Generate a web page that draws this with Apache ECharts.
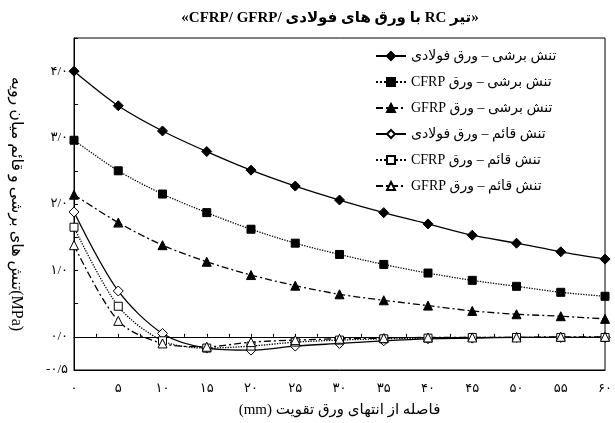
<!DOCTYPE html>
<html lang="fa" dir="ltr">
  <head>
    <meta charset="UTF-8" />
    <title>تنش برشی و قائم</title>
    <script src="https://cdn.jsdelivr.net/npm/echarts@6/dist/echarts.min.js"></script>
    <style>
      html, body { margin: 0; padding: 0; background: #fff; }
    </style>
  </head>
  <body>
    <div id="main" style="width: 615px; height: 423px"></div>
    <script>
      // distance from plate end (mm)
      var xs = [0, 5, 10, 15, 20, 25, 30, 35, 40, 45, 50, 55, 60];

      // shear stress (MPa)
      var shearSteel = [4.0, 3.48, 3.1, 2.79, 2.51, 2.27, 2.06, 1.87, 1.7, 1.53, 1.41, 1.28, 1.17];
      var shearCfrp = [2.96, 2.5, 2.15, 1.87, 1.62, 1.41, 1.24, 1.09, 0.96, 0.85, 0.76, 0.67, 0.61];
      var shearGfrp = [2.14, 1.72, 1.38, 1.13, 0.93, 0.77, 0.64, 0.55, 0.47, 0.39, 0.34, 0.31, 0.27];

      // normal stress (MPa)
      var normalSteel = [1.88, 0.69, 0.05, -0.17, -0.2, -0.14, -0.1, -0.06, -0.03, -0.02, -0.01, -0.01, -0.01];
      var normalCfrp = [1.65, 0.46, -0.06, -0.17, -0.14, -0.08, -0.05, -0.03, -0.02, -0.01, -0.01, -0.01, -0.01];
      var normalGfrp = [1.38, 0.24, -0.1, -0.15, -0.08, -0.05, -0.03, -0.02, -0.01, -0.01, -0.01, 0, 0];

      // text is shaped right-to-left here, so the Latin parts come first
      // to end up on the right-hand side as in the figure
      var seriesNames = [
        "تنش برشی – ورق فولادی",
        "CFRP تنش برشی – ورق",
        "GFRP تنش برشی – ورق",
        "تنش قائم – ورق فولادی",
        "CFRP تنش قائم – ورق",
        "GFRP تنش قائم – ورق"
      ];
      var titleText = "«CFRP/ GFRP/ با ورق های فولادی RC تیر»";
      var xNameParts = ["(mm)", " ", "فاصله از انتهای ورق تقویت"];
      var yName = "تنش های برشی و قائم میان رویه(MPa)";

      var faDigits = "۰۱۲۳۴۵۶۷۸۹";
      function fa(n) {
        return String(n).replace(/[0-9]/g, function (d) { return faDigits[+d]; });
      }

      var font = "'Liberation Serif', 'DejaVu Sans', serif";

      function pairs(vals) {
        return xs.map(function (x, i) { return [x, vals[i]]; });
      }

      var dashDot = [7, 3, 2, 3];
      var styles = [
        { data: shearSteel, symbol: "diamond", size: 10, fill: "#000", type: "solid" },
        { data: shearCfrp, symbol: "rect", size: 8, fill: "#000", type: "dotted" },
        { data: shearGfrp, symbol: "triangle", size: 9, fill: "#000", type: dashDot },
        { data: normalSteel, symbol: "diamond", size: 10, fill: "#fff", type: "solid" },
        { data: normalCfrp, symbol: "rect", size: 8, fill: "#fff", type: "dotted" },
        { data: normalGfrp, symbol: "triangle", size: 9, fill: "#fff", type: dashDot }
      ];

      var series = styles.map(function (s, i) {
        return {
          name: seriesNames[i],
          type: "line",
          data: pairs(s.data),
          smooth: 0.3,
          symbol: s.symbol,
          symbolSize: s.size,
          showAllSymbol: true,
          itemStyle: { color: s.fill, borderColor: "#000", borderWidth: 1 },
          lineStyle: { color: "#000", width: 1.3, type: s.type },
          z: 3
        };
      });

      var chart = echarts.init(document.getElementById("main"));
      chart.setOption({
        animation: false,
        backgroundColor: "#fff",
        textStyle: { fontFamily: font, color: "#000" },
        title: {
          text: titleText,
          left: 325,
          textAlign: "center",
          top: 6,
          textStyle: { fontFamily: font, fontSize: 15, fontWeight: "bold", color: "#000" }
        },
        legend: {
          orient: "vertical",
          left: 370,
          top: 44,
          itemWidth: 30,
          itemHeight: 10,
          itemGap: 12,
          textStyle: { fontFamily: font, fontSize: 14, color: "#000" },
          data: seriesNames
        },
        grid: {
          left: 74,
          right: 8,
          top: 38,
          bottom: 51,
          show: true,
          borderColor: "#000",
          borderWidth: 1
        },
        xAxis: [
          {
            type: "value",
            min: 0,
            max: 60,
            interval: 5,
            name: xNameParts.map(function (p) { return "{t|" + p + "}"; }).join(""),
            nameLocation: "middle",
            nameGap: 33,
            nameTextStyle: {
              fontFamily: font, fontSize: 15, color: "#000",
              rich: { t: { fontFamily: font, fontSize: 15, color: "#000" } }
            },
            axisLine: { onZero: false, lineStyle: { color: "#000" } },
            axisTick: { show: false },
            splitLine: { show: false },
            axisLabel: {
              color: "#000",
              fontSize: 13,
              margin: 12,
              fontFamily: font,
              formatter: function (v) { return fa(v); }
            }
          },
          {
            // line at zero with small ticks
            type: "value",
            position: "top",
            min: 0,
            max: 60,
            interval: 2.5,
            axisLine: { show: true, onZero: true, lineStyle: { color: "#000" } },
            axisTick: { show: true, inside: false, length: 3, lineStyle: { color: "#000" } },
            axisLabel: { show: false },
            splitLine: { show: false }
          }
        ],
        yAxis: {
          type: "value",
          min: -0.5,
          max: 4.5,
          interval: 0.5,
          name: yName,
          nameLocation: "middle",
          nameRotate: -90,
          nameGap: 50,
          nameTextStyle: { fontFamily: font, fontSize: 16, color: "#000" },
          axisLine: { onZero: false, lineStyle: { color: "#000" } },
          axisTick: { show: true, inside: true, length: 4, lineStyle: { color: "#000" } },
          splitLine: { show: false },
          axisLabel: {
            color: "#000",
            fontSize: 13,
            margin: 6,
            fontFamily: font,
            formatter: function (v) {
              if (v === -0.5) return "-۰/۵";
              if (Math.round(v) === v && v <= 4) return fa(v) + "/۰";
              return "";
            }
          }
        },
        series: series
      });
    </script>
  </body>
</html>
